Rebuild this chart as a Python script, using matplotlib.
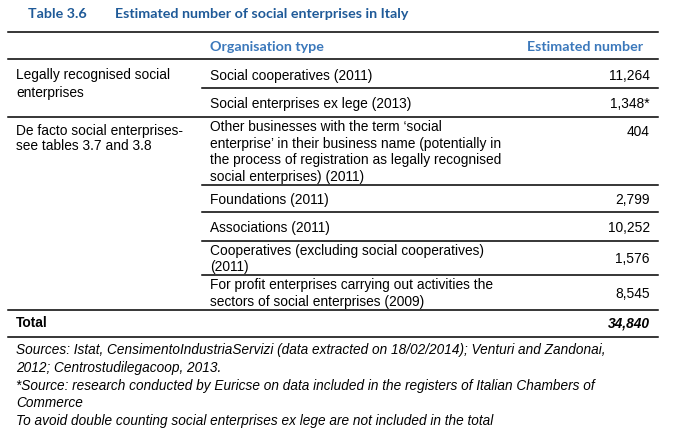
import matplotlib.pyplot as plt

title_num = "Table 3.6"
title_text = "Estimated number of social enterprises in Italy"
col_headers = ["Organisation type", "Estimated number"]

groups = [["Legally recognised social", "enterprises"],
          ["De facto social enterprises-", "see tables 3.7 and 3.8"]]
org_types = [
    "Social cooperatives (2011)",
    "Social enterprises ex lege (2013)",
    "Other businesses with the term \u2018social\nenterprise\u2019 in their business name (potentially in\n"
    "the process of registration as legally recognised\nsocial enterprises) (2011)",
    "Foundations (2011)",
    "Associations (2011)",
    "Cooperatives (excluding social cooperatives)\n(2011)",
    "For profit enterprises carrying out activities the\nsectors of social enterprises (2009)",
]
estimates = ["11,264", "1,348*", "404", "2,799", "10,252", "1,576", "8,545"]
total_label = "Total"
total_value = "34,840"
notes = [
    "Sources: Istat, CensimentoIndustriaServizi (data extracted on 18/02/2014); Venturi and Zandonai,",
    "2012; Centrostudilegacoop, 2013.",
    "*Source: research conducted by Euricse on data included in the registers of Italian Chambers of",
    "Commerce",
    "To avoid double counting social enterprises ex lege are not included in the total",
]

# layout (pixel coords of the 691x436 image)
W, H = 691, 436
x_left, x_right = 8, 658
x_col2 = 202
row_edges = [59, 88, 117, 185, 212, 241, 275, 310]
group_line_y = [(75, 93), (131, 146)]
num_top = [False, False, True, False, False, False, False]

title_c = "#1f5a98"
head_c = "#3b78bb"
body_font = ["Liberation Sans", "DejaVu Sans"]
head_font = ["Lato", "DejaVu Sans"]
note_font = ["Liberation Sans Narrow", "Liberation Sans", "DejaVu Sans"]
fs = 9.9

fig = plt.figure(figsize=(W / 100, H / 100), dpi=100)
ax = fig.add_axes([0, 0, 1, 1])
ax.set_xlim(0, W)
ax.set_ylim(H, 0)
ax.axis("off")

# title
ax.text(28, 13.5, title_num, color=title_c, fontsize=10.3, fontweight="bold",
        family=head_font, va="center")
ax.text(115, 13.5, title_text, color=title_c, fontsize=10.3, fontweight="bold",
        family=head_font, va="center")

# rules
for y in [32, 59, 117, 310, 337]:
    ax.plot([x_left, x_right], [y, y], color="black", lw=1.1)
for y in [88, 185, 212, 241, 275]:
    ax.plot([x_col2, x_right], [y, y], color="black", lw=1.1)

# header
ax.text(210, 47, col_headers[0], color=head_c, fontsize=10.3, fontweight="bold",
        family=head_font, va="center")
ax.text(643, 47, col_headers[1], color=head_c, fontsize=10.3, fontweight="bold",
        family=head_font, va="center", ha="right")

# group labels
for lines, ys in zip(groups, group_line_y):
    for line, y in zip(lines, ys):
        ax.text(16, y, line, fontsize=fs, family=body_font, va="center")

# body rows
for i, (name, val) in enumerate(zip(org_types, estimates)):
    top, bot = row_edges[i], row_edges[i + 1]
    mid = (top + bot) / 2
    if i == 0:
        mid = 75
    ax.text(210, mid + 1, name, fontsize=fs, family=body_font, va="center",
            linespacing=1.27)
    vy = top + 15 if num_top[i] else mid + 1
    ax.text(650, vy, val, fontsize=fs, family=body_font, va="center", ha="right")

# total
ax.text(16, 323, total_label, fontsize=fs, family=body_font, fontweight="bold",
        va="center")
ax.text(650, 323, total_value, fontsize=fs, family=body_font, fontweight="bold",
        style="italic", va="center", ha="right")

# notes
for k, line in enumerate(notes):
    ax.text(16, 350 + k * 17.8, line, fontsize=9.85, family=note_font,
            style="italic", va="center")

fig.savefig("out.png", dpi=100)
